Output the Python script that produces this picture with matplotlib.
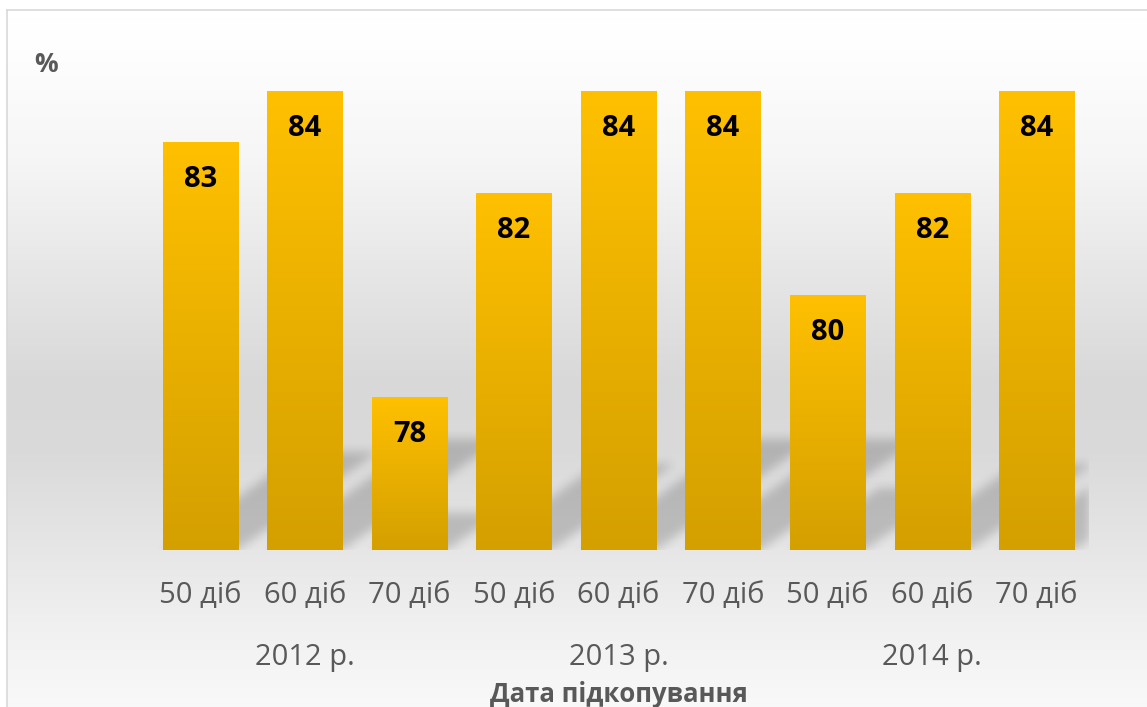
import numpy as np
import matplotlib.pyplot as plt
from matplotlib.lines import Line2D

plt.rcParams['font.family'] = ['Open Sans', 'DejaVu Sans']

# data
days = ['50 діб', '60 діб', '70 діб'] * 3
years = ['2012 р.', '2013 р.', '2014 р.']
values = [83, 84, 78, 82, 84, 84, 80, 82, 84]
ymin, ymax = 75, 85

W, H = 1147, 707
fig = plt.figure(figsize=(W / 100, H / 100), dpi=100)

# background gradient of the chart area
bg = fig.add_axes([0, 0, 1, 1])
bg.set_xlim(0, W)
bg.set_ylim(H, 0)
bg.axis('off')
stops_y = [9, 40, 150, 270, 380, 450, 530, 620, 707]
stops_c = [255, 254, 246, 230, 216, 218, 228, 240, 249]
yy = np.arange(H)
shade = np.interp(yy, stops_y, stops_c) / 255
img = np.stack([shade] * 3, axis=-1)[:, None, :].repeat(2, axis=1)
bg.imshow(img, extent=(7, W, H, 9), aspect='auto', zorder=0)
fig.add_artist(Line2D([7 / W, 1], [1 - 9.5 / H] * 2, color='#d9d9d9', lw=1.2))
fig.add_artist(Line2D([7.5 / W] * 2, [0, 1 - 9.5 / H], color='#d9d9d9', lw=1.2))

# plot axes
left, right, top, bottom = 148, 1089, 40, 550
ax = fig.add_axes([left / W, 1 - bottom / H, (right - left) / W, (bottom - top) / H])
ax.patch.set_alpha(0)
x = np.arange(len(values))
for s in ax.spines.values():
    s.set_visible(False)

bw = 0.72
bars = ax.bar(x, [v - ymin for v in values], bw, bottom=ymin, color='none', zorder=3)

# bar gradients
top_c = np.array([255, 192, 0]) / 255
bot_c = np.array([212, 160, 0]) / 255
t = np.linspace(0, 1, 256)[:, None]
grad = (top_c * (1 - t) + bot_c * t)[:, None, :]
for b in bars:
    x0 = b.get_x()
    ax.imshow(grad, extent=(x0, x0 + b.get_width(), ymin, ymin + b.get_height()),
              aspect='auto', zorder=3)

# soft perspective shadows going up-right from each bar base
pw, ph = right - left, bottom - top
ux = pw / len(values)
uy = ph / (ymax - ymin)
mask = np.zeros((ph, pw))
rows = np.arange(ph)[:, None]
cols = np.arange(pw)[None, :]
slope = 0.7
for b in bars:
    x0p = (b.get_x() + 0.5) * ux
    x1p = x0p + b.get_width() * ux
    hs = 0.24 * b.get_height() * uy
    xs = cols - rows / slope
    inside = (xs >= x0p) & (xs <= x1p) & (rows <= hs)
    mask = np.maximum(mask, inside.astype(float))
k = np.exp(-0.5 * (np.arange(-15, 16) / 5.0) ** 2)
k /= k.sum()
mask = np.apply_along_axis(lambda r: np.convolve(r, k, mode='same'), 1, mask)
mask = np.apply_along_axis(lambda c: np.convolve(c, k, mode='same'), 0, mask)
sh = np.zeros((ph, pw, 4))
sh[:, :, 3] = mask * 0.18
ax.imshow(sh, extent=(-0.5, len(values) - 0.5, ymin, ymax), origin='lower',
          aspect='auto', zorder=2)
ax.set_xlim(-0.5, len(values) - 0.5)
ax.set_ylim(ymin, ymax)

for xi, v in zip(x, values):
    ax.text(xi, v - 0.73, str(v), ha='center', va='center', fontsize=21,
            fontweight='bold', color='black', zorder=4)

ax.set_yticks([])
ax.set_xticks([])
xt = ax.get_xaxis_transform()
for xi, d in zip(x, days):
    ax.text(xi, -0.089, d, transform=xt, ha='center', va='center',
            fontsize=21, color='#595959')

for gi, yr in enumerate(years):
    ax.text(gi * 3 + 1, -0.211, yr, transform=xt,
            ha='center', va='center', fontsize=21, color='#595959')

ax.text(0.5, -0.283, 'Дата підкопування', transform=ax.transAxes, ha='center',
        va='center', fontsize=18.5, fontweight='bold', color='#595959')
fig.text(46 / W, 1 - 65 / H, '%', ha='center', va='center', fontsize=19,
         fontweight='bold', color='#595959')

fig.savefig('out.png', dpi=100)
